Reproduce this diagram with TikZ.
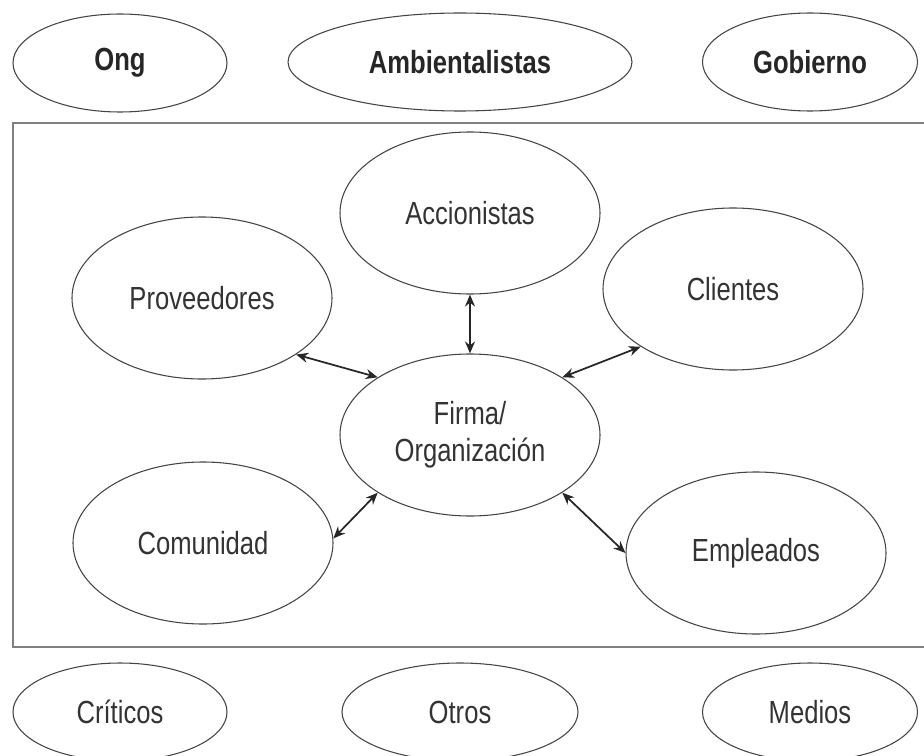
\documentclass[tikz,border=0pt]{standalone}
\usepackage{fontspec}
\setmainfont{Liberation Sans}[FakeStretch=0.8]
\usetikzlibrary{arrows.meta,shapes.geometric}
\definecolor{linegray}{HTML}{444444}
\definecolor{framegray}{HTML}{808080}
\definecolor{txtgray}{HTML}{333333}
\begin{document}
\begin{tikzpicture}[x=0.75pt,y=-0.75pt,
  ell/.style={ellipse,draw=linegray,line width=0.8pt,inner sep=0pt,text=txtgray,
    font=\fontsize{24}{27.75}\selectfont,align=center},
  outer/.style={ell,minimum height=73.5pt,font=\fontsize{24}{27.75}\selectfont\bfseries,text=black!85},
  lower/.style={ell,minimum height=73.5pt},
  inner/.style={ell,minimum width=195pt,minimum height=121.5pt},
  arr/.style={{Stealth[length=9pt,width=7.5pt]}-{Stealth[length=9pt,width=7.5pt]},line width=1.3pt,draw=black!85},
  frame/.style={draw=framegray,line width=1.5pt}]
\useasboundingbox (0,0) rectangle (924,756);
% frame
\draw[frame] (935,123) -- (13,123) -- (13,647) -- (935,647);
% outer stakeholders
\node[outer,minimum width=160.5pt] (ong) at (120,63) {Ong};
\node[outer,minimum width=258pt] (amb) at (460,62) {Ambientalistas};
\node[outer,minimum width=161.25pt] (gob) at (810,62) {Gobierno};
\node[lower,minimum width=160.5pt] (cri) at (120,712) {Críticos};
\node[lower,minimum width=177pt] (otr) at (460,712) {Otros};
\node[lower,minimum width=161.25pt] (med) at (810,712) {Medios};
% inner stakeholders
\node[inner] (acc) at (470,213) {Accionistas};
\node[inner] (prov) at (202,298) {Proveedores};
\node[inner] (cli) at (733,289) {Clientes};
\node[inner] (firma) at (470,435) {Firma/\\Organización};
\node[inner] (com) at (203,543) {Comunidad};
\node[inner] (emp) at (756,553) {Empleados};
% connectors
\draw[arr] (acc.south) -- (firma.north);
\draw[arr] (prov.-31) -- (firma.148);
\draw[arr] (cli.212) -- (firma.32);
\draw[arr] (com.2) -- (firma.212);
\draw[arr] (emp.180) -- (firma.328);
\end{tikzpicture}
\end{document}
